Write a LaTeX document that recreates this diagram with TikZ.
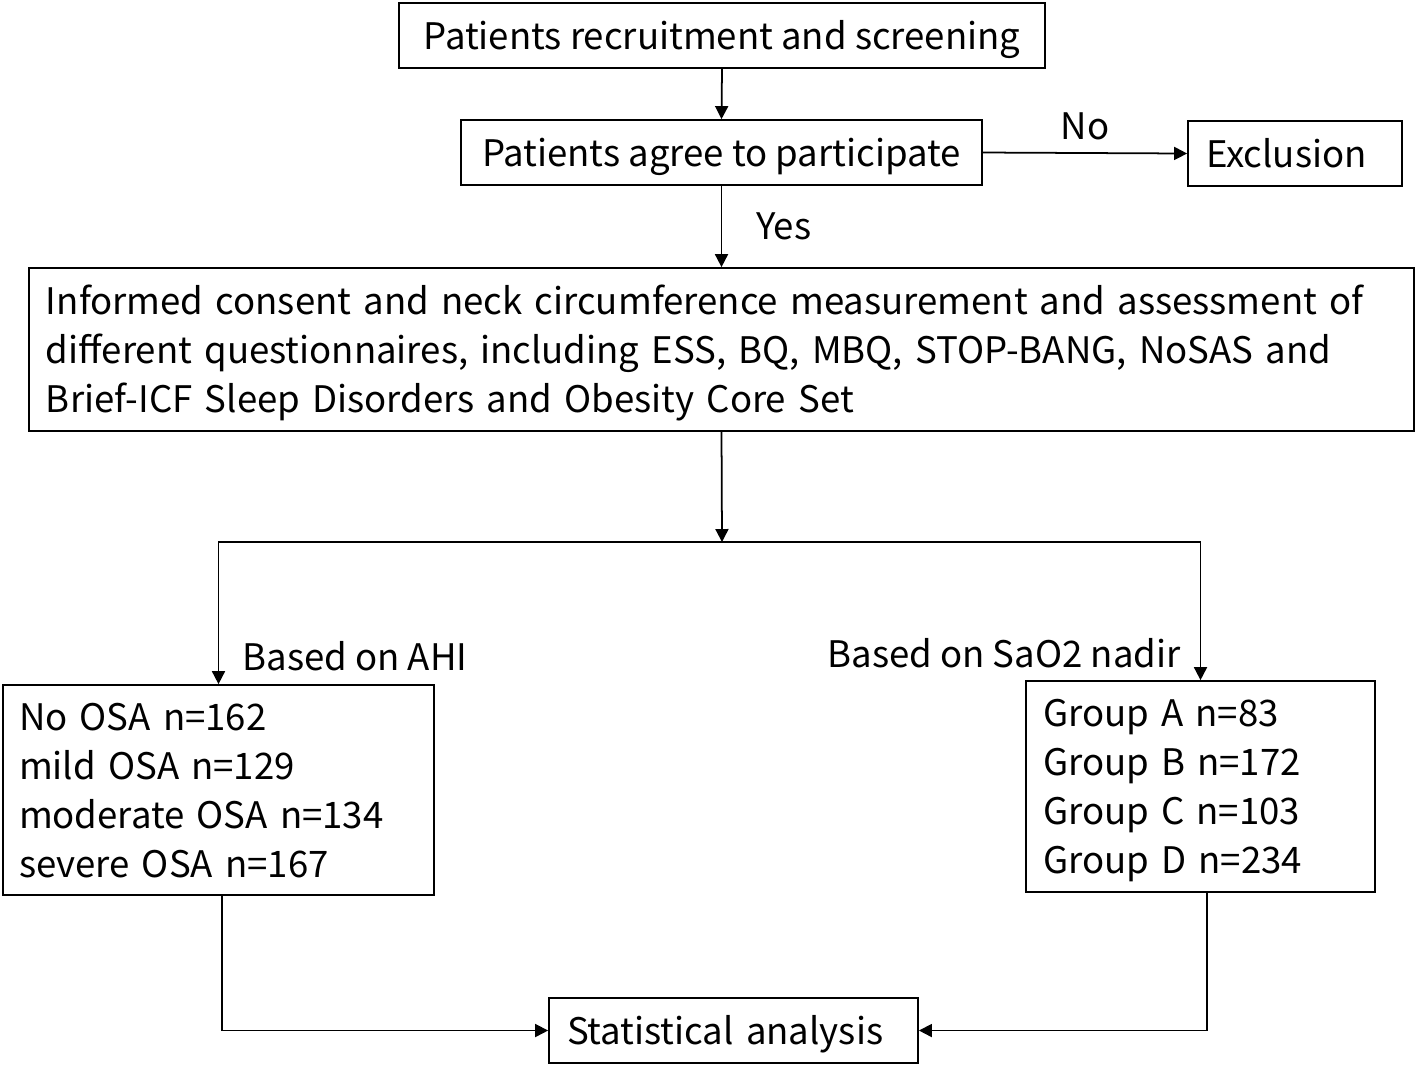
\documentclass[tikz,border=0pt]{standalone}
\usepackage{fontspec}
\setmainfont{Noto Sans CJK SC}
\usetikzlibrary{arrows.meta}

\begin{document}
\begin{tikzpicture}[x=1cm,y=1cm,
  box/.style={draw, line width=0.5pt, inner sep=0pt, align=left, text height=0.27cm},
  onebox/.style={box, minimum height=0.65cm, text depth=0cm},
  arr/.style={line width=0.5pt, -{Triangle[length=0.13cm,width=0.13cm]}},
  every node/.style={font=\fontsize{10.4}{13.95}\selectfont}]
  \useasboundingbox (0,0) rectangle (14.18,-10.67);

  \node[onebox, minimum width=6.46cm] (recruit) at (7.22,-0.355) {Patients recruitment and screening};
  \node[onebox, minimum width=5.21cm] (agree) at (7.215,-1.525) {Patients agree to participate};
  \node[onebox, text width=1.78cm, inner xsep=0.18cm] (excl) at (12.95,-1.535) {Exclusion};

  \node[box, text width=13.51cm, inner xsep=0.17cm, minimum height=1.63cm, text depth=0.98cm] (consent) at (7.215,-3.495)
    {Informed consent and neck circumference measurement and assessment of\\
     different questionnaires, including ESS, BQ, MBQ, STOP-BANG, NoSAS and\\
     Brief-ICF Sleep Disorders and Obesity Core Set};

  \node[box, text width=3.99cm, inner xsep=0.16cm, minimum height=2.10cm, text depth=1.47cm] (ahi) at (2.185,-7.90)
    {No OSA n=162\\ mild OSA n=129\\ moderate OSA n=134\\ severe OSA n=167};
  \node[box, text width=3.15cm, inner xsep=0.17cm, minimum height=2.11cm, text depth=1.47cm] (sao) at (12.005,-7.865)
    {Group A n=83\\ Group B n=172\\ Group C n=103\\ Group D n=234};

  \node[onebox, text width=3.33cm, inner xsep=0.18cm] (stat) at (7.335,-10.305) {Statistical analysis};

  \coordinate (split) at (7.22,-5.42);
  \node[anchor=west] (ahilbl) at (2.30,-6.56) {Based on AHI};
  \node[anchor=east] (saolbl) at (11.93,-6.53) {Based on SaO2 nadir};

  \draw[arr] (recruit.south) -- (agree.north);
  \draw[arr] (agree.east) -- node[above] {No} (excl.west);
  \draw[arr] (agree.south) -- node[right=0.22cm] {Yes} (consent.north);
  \draw[arr] (consent.south) -- (split);
  \draw[arr] (split) -| (ahi.north);
  \draw[arr] (split) -| (sao.north);
  \draw[arr] ([xshift=0.035cm]ahi.south) |- (stat.west);
  \draw[arr] ([xshift=0.065cm]sao.south) |- (stat.east);
\end{tikzpicture}
\end{document}
